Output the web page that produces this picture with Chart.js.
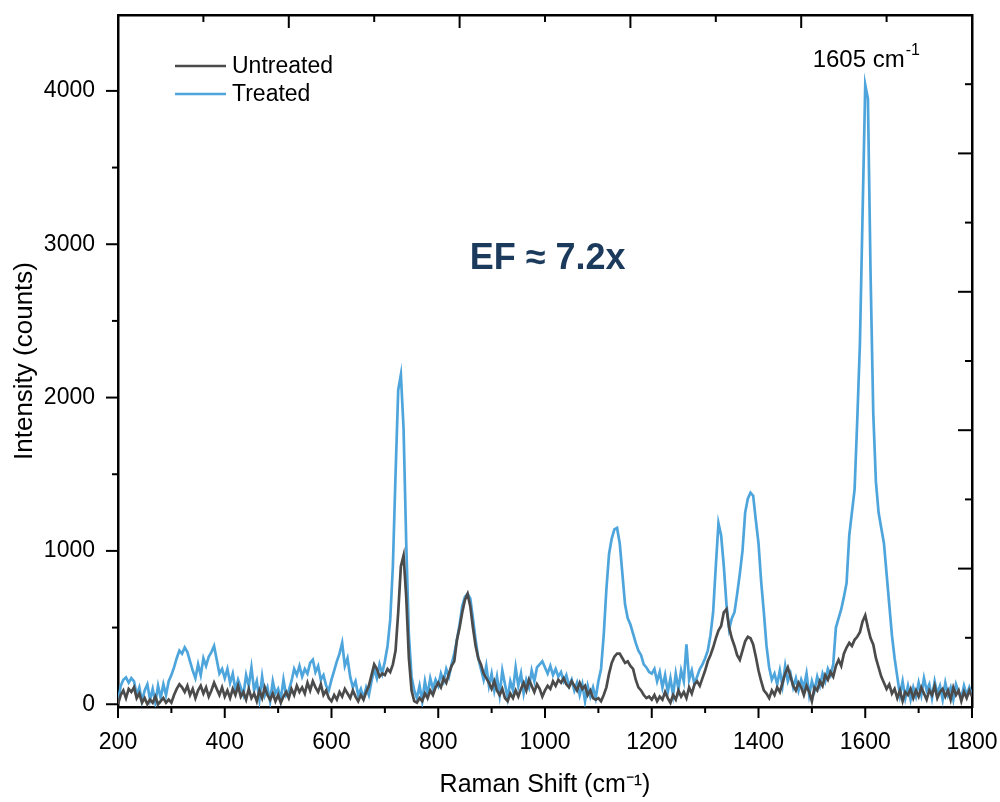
<!DOCTYPE html>
<html>
<head>
<meta charset="utf-8">
<script src="https://cdn.jsdelivr.net/npm/chart.js@4.4.1/dist/chart.umd.min.js"></script>
<style>
  html, body { margin: 0; padding: 0; background: #fff; }
  #wrap { width: 1000px; height: 802px; }
</style>
</head>
<body>
<div id="wrap"><canvas id="c" width="1000" height="802"></canvas></div>
<script>
// Raman shift grid (cm-1)
const shift = [
  200,205,210,215,220,225,230,235,240,245,250,255,260,265,270,275,280,285,290,295,
  300,305,310,315,320,325,330,335,340,345,350,355,360,365,370,375,380,385,390,395,
  400,405,410,415,420,425,430,435,440,445,450,455,460,465,470,475,480,485,490,495,
  500,505,510,515,520,525,530,535,540,545,550,555,560,565,570,575,580,585,590,595,
  600,605,610,615,620,625,630,635,640,645,650,655,660,665,670,675,680,685,690,695,
  700,705,710,715,720,725,730,735,740,745,750,755,760,765,770,775,780,785,790,795,
  800,805,810,815,820,825,830,835,840,845,850,855,860,865,870,875,880,885,890,895,
  900,905,910,915,920,925,930,935,940,945,950,955,960,965,970,975,980,985,990,995,
  1000,1005,1010,1015,1020,1025,1030,1035,1040,1045,1050,1055,1060,1065,1070,1075,1080,1085,1090,1095,
  1100,1105,1110,1115,1120,1125,1130,1135,1140,1145,1150,1155,1160,1165,1170,1175,1180,1185,1190,1195,
  1200,1205,1210,1215,1220,1225,1230,1235,1240,1245,1250,1255,1260,1265,1270,1275,1280,1285,1290,1295,
  1300,1305,1310,1315,1320,1325,1330,1335,1340,1345,1350,1355,1360,1365,1370,1375,1380,1385,1390,1395,
  1400,1405,1410,1415,1420,1425,1430,1435,1440,1445,1450,1455,1460,1465,1470,1475,1480,1485,1490,1495,
  1500,1505,1510,1515,1520,1525,1530,1535,1540,1545,1550,1555,1560,1565,1570,1575,1580,1585,1590,1595,
  1600,1605,1610,1615,1620,1625,1630,1635,1640,1645,1650,1655,1660,1665,1670,1675,1680,1685,1690,1695,
  1700,1705,1710,1715,1720,1725,1730,1735,1740,1745,1750,1755,1760,1765,1770,1775,1780,1785,1790,1795,
  1800
];

const untreated = [
  0,60,90,40,100,80,110,40,70,10, 40,0,30,10,50,0,20,40,10,30,
  10,60,100,130,110,80,120,60,100,40, 90,120,70,110,50,90,140,100,60,110,
  50,90,40,100,60,120,50,80,30,100, 40,70,20,90,40,110,60,30,70,20,
  60,10,50,80,40,100,60,120,80,110, 70,140,90,150,110,80,130,60,90,40,
  20,60,30,80,50,100,70,40,90,50, 20,60,30,80,120,190,260,230,180,200,
  190,230,210,260,350,600,900,970,700,300, 90,20,10,40,20,70,40,90,60,110,
  140,110,170,140,200,250,280,420,500,600, 680,720,640,500,380,300,260,200,170,140,
  100,150,90,60,100,40,20,70,40,90, 50,100,140,90,160,120,80,130,100,50,
  90,120,100,150,120,160,140,170,130,110, 150,120,90,140,100,120,60,90,40,30,
  40,20,60,110,200,270,310,330,330,300, 270,280,250,230,160,110,90,60,40,50,
  30,60,20,50,30,80,40,10,60,30, 90,50,80,40,110,70,130,150,120,170,
  220,280,320,370,430,480,510,600,620,500, 430,380,320,290,350,410,440,430,390,310,
  220,150,90,70,40,90,60,110,80,140, 200,240,180,120,90,140,110,60,120,80,
  20,110,90,150,120,190,160,210,180,250, 290,250,330,370,400,380,420,440,470,540,
  580,500,430,390,300,240,180,140,100,130, 70,100,40,90,20,80,60,100,40,90,
  50,110,70,30,90,60,120,40,80,100, 50,90,30,110,60,90,20,80,40,90,
  50
];

const treated = [
  10,120,160,175,140,170,150,60,110,20, 90,130,30,100,10,120,40,130,60,150,
  190,240,300,350,330,370,340,280,220,170, 260,190,300,250,310,340,380,290,200,230,
  170,230,140,200,90,160,110,60,190,120, 240,90,150,30,180,60,110,20,150,70,
  100,30,160,60,90,150,230,190,250,180, 230,200,270,290,210,250,160,190,120,90,
  160,220,280,330,400,250,300,180,110,150, 60,100,40,110,60,150,230,170,260,200,
  280,380,550,900,1500,2050,2150,1800,1050,450, 180,90,40,120,20,150,60,170,100,160,
  120,200,150,230,180,260,330,420,520,640, 700,720,690,560,420,300,230,160,250,120,
  200,90,180,60,220,130,40,150,90,240, 120,200,70,160,110,220,150,240,260,280,
  240,200,250,190,230,180,210,150,190,120, 160,90,140,60,130,20,120,50,110,40,
  150,230,450,750,980,1080,1140,1150,1050,850, 650,560,520,460,400,350,320,260,240,210,
  200,230,150,210,110,190,80,170,60,200, 100,220,150,390,160,220,130,180,230,260,
  300,350,450,600,900,1180,1100,900,650,490, 560,600,720,850,1000,1250,1340,1380,1360,1200,
  1050,800,600,380,240,160,200,130,220,120, 250,150,200,110,170,90,160,110,200,60,
  150,90,180,120,200,150,230,190,260,500, 560,620,700,790,1100,1250,1400,1850,2350,3200,
  4040,3950,2800,1900,1450,1250,1150,1050,850,650, 450,300,180,60,150,40,120,30,110,50,
  140,60,170,90,130,40,150,70,120,30, 140,60,110,30,130,80,40,120,60,110,
  60
];

const xMajor = [200, 400, 600, 800, 1000, 1200, 1400, 1600, 1800];
const xMinor = [300, 500, 700, 900, 1100, 1300, 1500, 1700];
const yMajor = [0, 1000, 2000, 3000, 4000];
const yMinor = [500, 1500, 2500, 3500];
// opposite (top/right) frame axes carry their own tick sets
const edgeMajor = [0, 2, 4, 6, 8, 10];
const edgeMinor = [1, 3, 5, 7, 9];

const GRAY = '#4b4b4b';
const BLUE = '#4ea5dc';
const FONT = 'Arial, "Liberation Sans", sans-serif';

const pts = (ys) => shift.map((x, i) => ({ x, y: ys[i] }));

// tick marks + legend + annotations
const decor = {
  id: 'decor',
  afterDraw(chart) {
    const { ctx, scales: { x, y, x2, y2 } } = chart;
    ctx.save();
    ctx.strokeStyle = '#000';
    ctx.lineWidth = 2;
    const line = (a, b, c, d) => { ctx.beginPath(); ctx.moveTo(a, b); ctx.lineTo(c, d); ctx.stroke(); };

    xMajor.forEach(v => { const p = x.getPixelForValue(v); line(p, x.top, p, x.top + 11); });
    xMinor.forEach(v => { const p = x.getPixelForValue(v); line(p, x.top, p, x.top + 6); });
    yMajor.forEach(v => { const p = y.getPixelForValue(v); line(y.right, p, y.right - 12, p); });
    yMinor.forEach(v => { const p = y.getPixelForValue(v); line(y.right, p, y.right - 6, p); });
    edgeMajor.forEach(v => { const p = x2.getPixelForValue(v); line(p, x2.bottom, p, x2.bottom + 13); });
    edgeMinor.forEach(v => { const p = x2.getPixelForValue(v); line(p, x2.bottom, p, x2.bottom + 7); });
    edgeMajor.forEach(v => { const p = y2.getPixelForValue(v); line(y2.left, p, y2.left - 14, p); });
    edgeMinor.forEach(v => { const p = y2.getPixelForValue(v); line(y2.left, p, y2.left - 7, p); });

    // legend
    const ca = chart.chartArea;
    ctx.font = `23px ${FONT}`;
    ctx.textBaseline = 'middle';
    ctx.textAlign = 'left';
    chart.data.datasets.forEach((ds, i) => {
      const ly = ca.top + 51 + i * 28;
      ctx.strokeStyle = ds.borderColor;
      ctx.lineWidth = 2.5;
      line(ca.left + 57, ly, ca.left + 108, ly);
      ctx.fillStyle = '#000';
      ctx.fillText(ds.label, ca.left + 114, ly + 1);
    });

    // 1605 peak label
    const px = x.getPixelForValue(1601);
    const py = y.getPixelForValue(4200);
    const main = '1605 cm';
    ctx.font = `16px ${FONT}`;
    const supW = ctx.measureText('-1').width;
    ctx.font = `24px ${FONT}`;
    const mainW = ctx.measureText(main).width;
    const x0 = px - (mainW + supW) / 2;
    ctx.fillStyle = '#000';
    ctx.fillText(main, x0, py);
    ctx.font = `16px ${FONT}`;
    ctx.fillText('-1', x0 + mainW + 1, py - 10);

    // enhancement factor
    ctx.font = `bold 36px ${FONT}`;
    ctx.fillStyle = '#1b3a5c';
    ctx.textAlign = 'center';
    ctx.fillText('EF \u2248 7.2x', x.getPixelForValue(1005), y.getPixelForValue(2900));
    ctx.restore();
  }
};

const plain = (v) => String(v);

new Chart(document.getElementById('c'), {
  type: 'line',
  data: {
    datasets: [
      { label: 'Untreated', data: pts(untreated), borderColor: GRAY, borderWidth: 2.7, pointRadius: 0, tension: 0, order: 0 },
      { label: 'Treated', data: pts(treated), borderColor: BLUE, borderWidth: 2.7, pointRadius: 0, tension: 0, order: 1 }
    ]
  },
  options: {
    responsive: false,
    animation: false,
    layout: { padding: 0 },
    plugins: { legend: { display: false }, tooltip: { enabled: false } },
    scales: {
      x: {
        type: 'linear', position: 'bottom', min: 200, max: 1800,
        afterBuildTicks: (s) => { s.ticks = xMajor.map(v => ({ value: v })); },
        afterFit: (s) => { s.height = 95; s.paddingLeft = 0; s.paddingRight = 0; },
        grid: { drawOnChartArea: false, tickLength: 11, tickColor: 'rgba(0,0,0,0)' },
        border: { display: true, color: '#000', width: 2.5 },
        ticks: { color: '#000', font: { size: 23, family: FONT }, padding: 11, maxRotation: 0, callback: plain },
        title: { display: true, text: 'Raman Shift (cm\u207B\u00B9)', color: '#000', font: { size: 25, family: FONT }, padding: { bottom: 2 } }
      },
      y: {
        type: 'linear', position: 'left', min: -18, max: 4495,
        afterBuildTicks: (s) => { s.ticks = yMajor.map(v => ({ value: v })); },
        afterFit: (s) => { s.width = 118; s.paddingTop = 0; s.paddingBottom = 0; },
        grid: { drawOnChartArea: false, tickLength: 12, tickColor: 'rgba(0,0,0,0)' },
        border: { display: true, color: '#000', width: 2.5 },
        ticks: { color: '#000', font: { size: 23, family: FONT }, padding: 11, callback: plain },
        title: { display: true, text: 'Intensity (counts)', color: '#000', font: { size: 26, family: FONT }, padding: { top: 9 } }
      },
      x2: {
        type: 'linear', position: 'top', min: 0, max: 10,
        afterFit: (s) => { s.height = 15; s.paddingLeft = 0; s.paddingRight = 0; },
        grid: { display: false },
        border: { display: true, color: '#000', width: 2.5 },
        ticks: { display: false }
      },
      y2: {
        type: 'linear', position: 'right', min: 0, max: 10,
        afterFit: (s) => { s.width = 28; s.paddingTop = 0; s.paddingBottom = 0; },
        grid: { display: false },
        border: { display: true, color: '#000', width: 2.5 },
        ticks: { display: false }
      }
    }
  },
  plugins: [decor]
});
</script>
</body>
</html>
